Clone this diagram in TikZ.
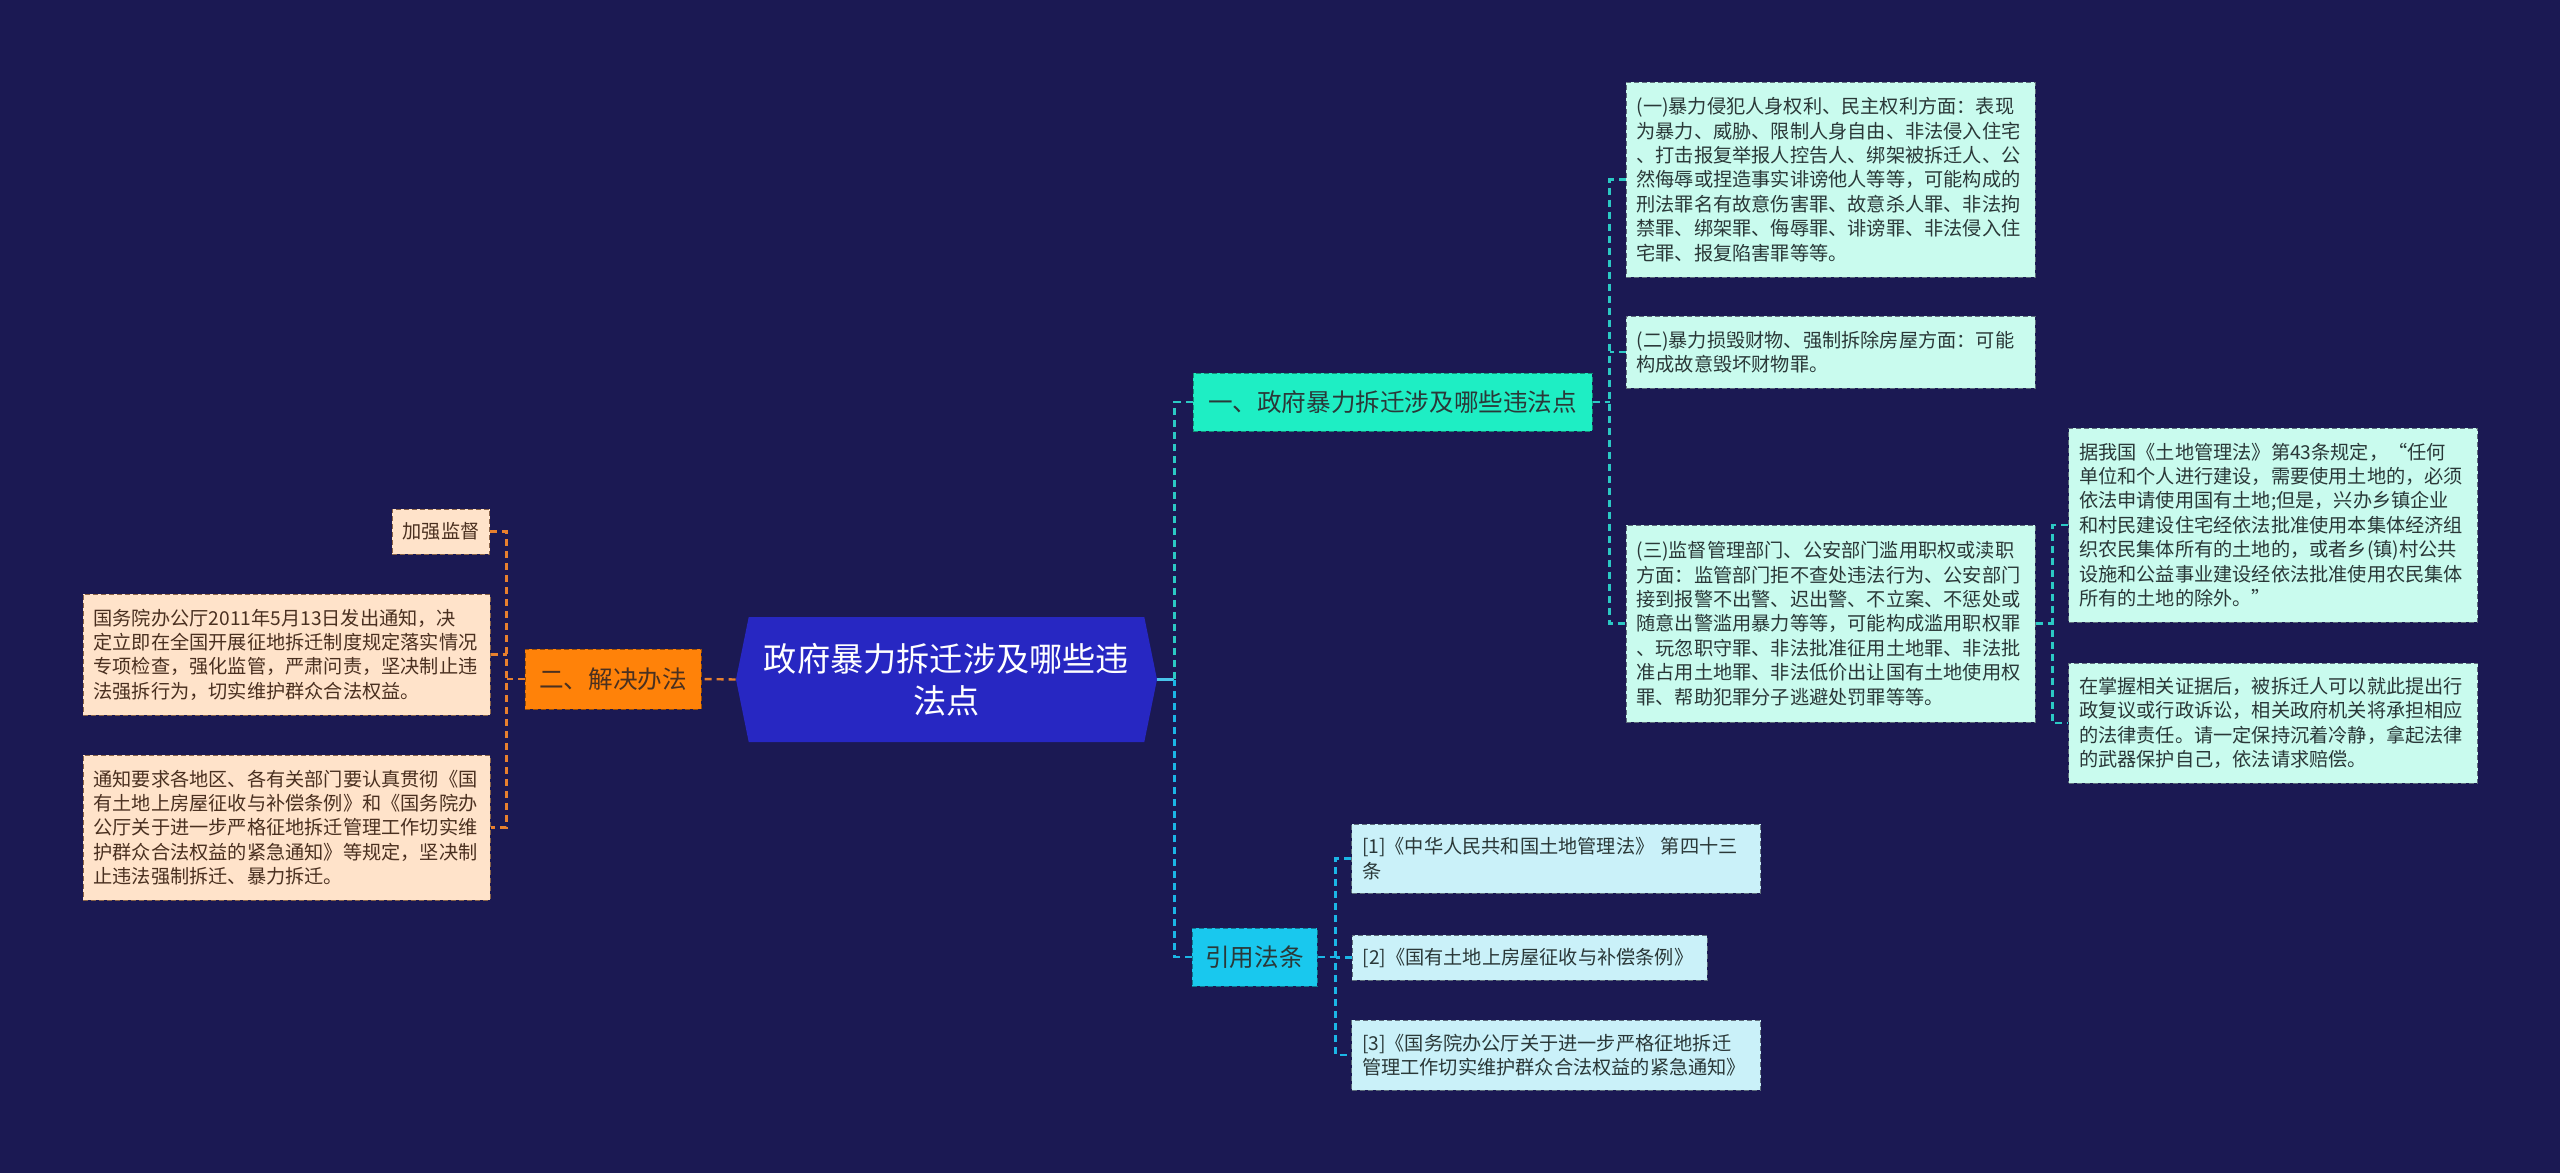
\documentclass[tikz,border=0pt]{standalone}
\usepackage{fontspec}
\setmainfont{Noto Sans CJK SC}
\usetikzlibrary{shapes.symbols}

\definecolor{bgnavy}{HTML}{1B1953}
\definecolor{rootblue}{HTML}{2727C2}
\definecolor{tealfill}{HTML}{1EEEC4}
\definecolor{skyfill}{HTML}{19C8EE}
\definecolor{orangefill}{HTML}{FF8209}
\definecolor{mintleaf}{HTML}{C9FBEE}
\definecolor{skyleaf}{HTML}{CAF1F9}
\definecolor{peachleaf}{HTML}{FFE3CA}
\definecolor{leafedge}{HTML}{5E6E7C}
\definecolor{peachedge}{HTML}{8A6448}
\definecolor{leaftext}{HTML}{2A3838}
\definecolor{peachtext}{HTML}{4A3020}
\definecolor{teallink}{HTML}{2BC9C4}
\definecolor{skylink}{HTML}{1BB6E6}
\definecolor{orangelink}{HTML}{E8802E}

\tikzset{
  rootnode/.style={shape=signal, signal to=east and west, signal pointer angle=157,
    fill=rootblue, text=white, align=center, inner sep=0pt,
    minimum width=210.5pt, minimum height=62.5pt,
    font=\fontsize{16.6}{21}\selectfont},
  branchbox/.style={draw=#1!60!black, dash pattern=on 2.5pt off 1.5pt, line width=0.5pt,
    fill=#1, minimum height=29pt, inner sep=0pt,
    font=\fontsize{12.3}{15}\selectfont},
  leafbase/.style={draw=leafedge, dash pattern=on 2.5pt off 1.5pt, line width=0.5pt,
    fill=#1, text=leaftext, align=left, inner xsep=5.25pt, inner ysep=0pt,
    font=\fontsize{9.6}{12.2}\selectfont},
  leafbox/.style={leafbase=#1, text width=194pt},
  peachbox/.style={leafbase=peachleaf, draw=peachedge, text=peachtext},
  linkline/.style={draw=#1, line width=1.2pt, dash pattern=on 3.5pt off 2.5pt},
}

\begin{document}
\begin{tikzpicture}[x=0.5pt,y=-0.5pt]
  \fill[bgnavy] (0,0) rectangle (2560,1173);
  \useasboundingbox (0,0) rectangle (2560,1173);

  % root and main branches
  \node[rootnode] (root) at (946.5,679.5) {政府暴力拆迁涉及哪些违\\法点};
  \node[branchbox=tealfill, minimum width=199.5pt, text=leaftext] (viol) at (1392.5,402) {一、政府暴力拆迁涉及哪些违法点};
  \node[branchbox=skyfill, minimum width=62.5pt, text=leaftext] (laws) at (1254.5,957) {引用法条};
  \node[branchbox=orangefill, minimum width=88pt, minimum height=30pt, text=peachtext] (fix) at (613,679) {二、解决办法};

  % violations
  \node[leafbox=mintleaf, minimum height=97.5pt] (l1) at (1830.5,179.5) {(一)暴力侵犯人身权利、民主权利方面：表现\\为暴力、威胁、限制人身自由、非法侵入住宅\\、打击报复举报人控告人、绑架被拆迁人、公\\然侮辱或捏造事实诽谤他人等等，可能构成的\\刑法罪名有故意伤害罪、故意杀人罪、非法拘\\禁罪、绑架罪、侮辱罪、诽谤罪、非法侵入住\\宅罪、报复陷害罪等等。};
  \node[leafbox=mintleaf, minimum height=36pt] (l2) at (1830.5,352) {(二)暴力损毁财物、强制拆除房屋方面：可能\\构成故意毁坏财物罪。};
  \node[leafbox=mintleaf, minimum height=98.5pt] (l3) at (1830.5,623.5) {(三)监督管理部门、公安部门滥用职权或渎职\\方面：监管部门拒不查处违法行为、公安部门\\接到报警不出警、迟出警、不立案、不惩处或\\随意出警滥用暴力等等，可能构成滥用职权罪\\、玩忽职守罪、非法批准征用土地罪、非法批\\准占用土地罪、非法低价出让国有土地使用权\\罪、帮助犯罪分子逃避处罚罪等等。};
  \node[leafbox=mintleaf, minimum height=97pt] (s1) at (2273,525) {据我国《土地管理法》第43条规定，“任何\\单位和个人进行建设，需要使用土地的，必须\\依法申请使用国有土地;但是，兴办乡镇企业\\和村民建设住宅经依法批准使用本集体经济组\\织农民集体所有的土地的，或者乡(镇)村公共\\设施和公益事业建设经依法批准使用农民集体\\所有的土地的除外。”};
  \node[leafbox=mintleaf, minimum height=60pt] (s2) at (2273,723) {在掌握相关证据后，被拆迁人可以就此提出行\\政复议或行政诉讼，相关政府机关将承担相应\\的法律责任。请一定保持沉着冷静，拿起法律\\的武器保护自己，依法请求赔偿。};

  % cited laws
  \node[leafbox=skyleaf, minimum height=34.5pt] (r1) at (1556,858.5) {[1]《中华人民共和国土地管理法》 第四十三\\条};
  \node[leafbase=skyleaf, text width=167pt, minimum height=22.5pt] (r2) at (1529.5,957.5) {[2]《国有土地上房屋征收与补偿条例》};
  \node[leafbox=skyleaf, minimum height=35pt] (r3) at (1556,1055) {[3]《国务院办公厅关于进一步严格征地拆迁\\管理工作切实维护群众合法权益的紧急通知》};

  % measures
  \node[peachbox, minimum height=22.5pt] (p1) at (441,531.5) {加强监督};
  \node[peachbox, text width=193pt, minimum height=60.5pt] (p2) at (286.5,654.5) {国务院办公厅2011年5月13日发出通知，决\\定立即在全国开展征地拆迁制度规定落实情况\\专项检查，强化监管，严肃问责，坚决制止违\\法强拆行为，切实维护群众合法权益。};
  \node[peachbox, text width=193pt, minimum height=72.5pt] (p3) at (286.5,827.5) {通知要求各地区、各有关部门要认真贯彻《国\\有土地上房屋征收与补偿条例》和《国务院办\\公厅关于进一步严格征地拆迁管理工作切实维\\护群众合法权益的紧急通知》等规定，坚决制\\止违法强制拆迁、暴力拆迁。};

  % connectors
  \draw[skylink!80!white, line width=1.2pt] (root.east) -- ++(17,0) coordinate (rtrunk);
  \draw[linkline=teallink] (viol.west) -| (rtrunk);
  \draw[linkline=skylink] (laws.west) -| (rtrunk);
  \draw[linkline=teallink] (viol.east) -- ++(17,0) coordinate (vtrunk);
  \draw[linkline=teallink] (l1.west) -| (vtrunk) |- (l3.west);
  \draw[linkline=teallink] (l2.west) -- (vtrunk |- l2.west);
  \draw[linkline=teallink] (l3.east) -- ++(17,0) coordinate (strunk);
  \draw[linkline=teallink] (s1.west) -| (strunk) |- (s2.west);
  \draw[linkline=skylink] (laws.east) -- ++(18,0) coordinate (ltrunk);
  \draw[linkline=skylink] (r1.west) -| (ltrunk) |- (r3.west);
  \draw[linkline=skylink] (r2.west) -- (ltrunk |- r2.west);
  \draw[linkline=orangelink] (root.west) -- (fix.east);
  \draw[linkline=orangelink] (fix.west) -- ++(-18,0) coordinate (ftrunk);
  \draw[linkline=orangelink] (p1.east) -| (ftrunk) |- (p3.east);
  \draw[linkline=orangelink] (p2.east) -- (ftrunk |- p2.east);
\end{tikzpicture}
\end{document}
